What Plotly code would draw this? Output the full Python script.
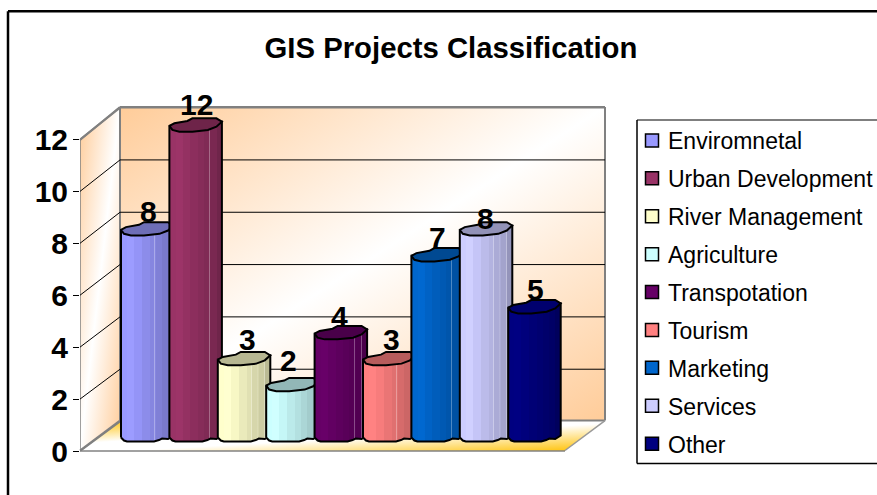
import base64
import plotly.graph_objects as go

# ---- data ----
categories = ["Enviromnetal", "Urban Development", "River Management", "Agriculture",
              "Transpotation", "Tourism", "Marketing", "Services", "Other"]
values = [8, 12, 3, 2, 4, 3, 7, 8, 5]
colors = ["#9999FF", "#993366", "#FFFFCC", "#CCFFFF", "#660066",
          "#FF8080", "#0066CC", "#CCCCFF", "#000080"]
y_ticks = [0, 2, 4, 6, 8, 10, 12]

# ---- style / geometry ----
W, H = 877, 495
L, R, T, B = 80, 605, 107, 451.5        # plot rectangle in page pixels
PITCH = 48.4                            # px per category
FIRST_CENTRE = 147.25
BAR_W = 52.5
UNIT_FRONT, UNIT_BACK, UNIT_BAR = 26.0, 26.2, 26.0
BACK_ZERO, BAR_ZERO = 422.0, 437.0
FONT = "Liberation Sans, Arial, sans-serif"
LABEL_UP = [17, 20, 19, 24, 16, 19, 17, 10, 17]
LABEL_RIGHT = [1, 1, 3, -4, -1, 2, 0, -1, 1]

# outline templates of the cylinder, px from left edge / level (down positive)
TOP_SHAPE = [(0, 1), (5, -1.7), (18, -4), (23, -6.7), (47, -6.7), (52.5, -3.3), (47, 1.7),
             (38.5, 5), (23, 6.7), (10, 6.7), (3, 5), (0, 1)]
BOTTOM_SHAPE = [(0, 1), (3, 4), (6, 5), (33, 5), (38, 3.5), (41, 2), (47, 2.5), (50, 1), (52.5, -1)]
BANDS = [(0, 1.0), (.12, 1.02), (.25, .97), (.4, .92), (.55, .88), (.66, .84), (.78, .8), (.9, .73), (1, .68)]
STREAKS = [.64, .76, .89]


def rgb(c):
    return tuple(int(c[i:i + 2], 16) for i in (1, 3, 5))


def scaled(c, k, white=0.0):
    r = [min(255, v * k) for v in rgb(c)]
    r = [v + (255 - v) * white for v in r]
    return "rgb(%d,%d,%d)" % tuple(r)


def gradient(c):
    stops = []
    for i in range(len(BANDS) - 1):
        a, ka = BANDS[i]
        b, _ = BANDS[i + 1]
        stops += [[a, scaled(c, ka)], [b - 0.0005, scaled(c, ka)]]
    stops += [[1, scaled(c, BANDS[-1][1])]]
    out = []
    for s in STREAKS:
        stops = [p for p in stops if not (s - .004 <= p[0] <= s + .006)]
        k = [kb for (q, kb) in BANDS if q <= s][-1]
        out += [[s - .004, scaled(c, k)], [s - .0035, scaled(c, k, .3)],
                [s + .005, scaled(c, k, .3)], [s + .0055, scaled(c, k)]]
    return sorted(stops + out, key=lambda p: p[0])


def px_x(px):
    return (px - L) / (R - L)


def px_y(px):
    return (B - px) / (B - T)


def hline(x0, y0, x1, y1, color="#808080", width=2):
    return dict(type="line", xref="paper", yref="paper", x0=px_x(x0), x1=px_x(x1), y0=px_y(y0), y1=px_y(y1),
                line=dict(color=color, width=width), layer="below")


# wall backdrop with diagonal gradients
svg = f'''<svg xmlns="http://www.w3.org/2000/svg" width="{W}" height="{H}" viewBox="0 0 {W} {H}">
<defs>
<linearGradient id="w" x1="0" y1="0" x2="1" y2="1"><stop offset="0" stop-color="#FFCC99"/><stop offset=".5" stop-color="#FFFFFF"/><stop offset="1" stop-color="#FFCC99"/></linearGradient>
<linearGradient id="f" x1="0" y1="0" x2="1" y2="1"><stop offset="0" stop-color="#FFC000"/><stop offset=".38" stop-color="#FFFFFF"/><stop offset=".55" stop-color="#FFFFFF"/><stop offset="1" stop-color="#FFC000"/></linearGradient>
</defs>
<polygon points="120,107 605,107 605,421 120,421" fill="url(#w)"/>
<polygon points="80,140 120,107 120,421 80,451" fill="url(#w)"/>
<polygon points="80,451 120,421 605,421 565,451" fill="url(#f)"/>
</svg>'''
src = "data:image/svg+xml;base64," + base64.b64encode(svg.encode()).decode()

fig = go.Figure()

# x position of a page pixel, in category units
def cat_x(px):
    return (px - FIRST_CENTRE) / PITCH


# front axis line (main y axis) and legend swatches
fig.add_trace(go.Scatter(x=[cat_x(L)] * 2, y=[y_ticks[0], y_ticks[-1]], mode="lines",
                         line=dict(color="#808080", width=1.5), showlegend=False, hoverinfo="skip"))
for name, color in zip(categories, colors):
    fig.add_trace(go.Scatter(x=[None], y=[None], mode="markers", name=name, legendgroup=name,
                             marker=dict(symbol="square", size=13, color=color, angle=90, standoff=4,
                                         line=dict(color="black", width=1.5))))

# gridlines on back wall and left wall (yaxis2: back-wall scale)
for v in y_ticks:
    front_level = (BACK_ZERO - (B - UNIT_FRONT * v)) / UNIT_BACK
    fig.add_trace(go.Scatter(x=[cat_x(L), cat_x(L + 40)], y=[front_level, v], yaxis="y2", mode="lines",
                             line=dict(color="#808080" if v in (0, 12) else "black", width=2 if v in (0, 12) else 1),
                             showlegend=False, hoverinfo="skip"))
    if v:
        fig.add_trace(go.Scatter(x=[cat_x(L + 40), cat_x(R)], y=[v, v], yaxis="y2", mode="lines",
                                 line=dict(color="#808080" if v == 12 else "black", width=2 if v == 12 else 1),
                                 showlegend=False, hoverinfo="skip"))

# cylinders (yaxis3: bar scale), later ones over earlier ones
for i, (name, val, color) in enumerate(zip(categories, values, colors)):
    left = i - BAR_W / 2 / PITCH
    bx = [left + dx / PITCH for dx, _ in BOTTOM_SHAPE]
    by = [-dy / UNIT_BAR for _, dy in BOTTOM_SHAPE]
    tx = [left + dx / PITCH for dx, _ in TOP_SHAPE]
    ty = [val - dy / UNIT_BAR for _, dy in TOP_SHAPE]
    body_x = bx + [left + BAR_W / PITCH, left, left]
    body_y = by + [val + 3.3 / UNIT_BAR, val - 1 / UNIT_BAR, by[0]]
    fig.add_trace(go.Scatter(x=body_x, y=body_y, yaxis="y3", mode="lines", fill="toself",
                             fillgradient=dict(type="horizontal", colorscale=gradient(color)),
                             line=dict(color="black", width=2), legendgroup=name, showlegend=False,
                             name=name, hoverinfo="skip"))
    fig.add_trace(go.Scatter(x=tx, y=ty, yaxis="y3", mode="lines", fill="toself",
                             fillcolor=scaled(color, .72) if color != "#000080" else "#00006E",
                             line=dict(color="black", width=2), legendgroup=name, showlegend=False,
                             name=name, hovertemplate=f"{name}: {val}<extra></extra>"))
    fig.add_annotation(x=i, y=val, xref="x", yref="y3", text=str(val), showarrow=False,
                       xshift=LABEL_RIGHT[i], yshift=LABEL_UP[i],
                       font=dict(family=FONT, size=30, color="black", weight="bold"))

shapes = [
    hline(8, 11, W + 5, 11, "black", 2.5), hline(8, 11, 8, H + 5, "black", 2.5),
    hline(637, 120, W + 5, 120, "#555555", 1.5), hline(637, 120, 637, 464, "black", 1.5),
    hline(637, 464, W + 5, 464, "black", 1.5),
    hline(80, 140, 120, 107), hline(120, 107, 120, 421), hline(120, 107, 605, 107),
    hline(605, 107, 605, 421), hline(120, 421, 605, 421), hline(80, 451, 120, 421),
    hline(605, 421, 565, 451, "#999999", 1.5), hline(80, 451.5, 565, 451.5, "#444444", 1.2),
]

fig.update_layout(
    width=W, height=H, autosize=False,
    margin=dict(l=L, r=W - R, t=T, b=H - B, autoexpand=False),
    paper_bgcolor="white", plot_bgcolor="rgba(0,0,0,0)",
    font=dict(family=FONT, color="black"),
    title=dict(text="<b>GIS Projects Classification</b>", x=451 / W, y=1 - 48 / H, xanchor="center",
               yanchor="middle", xref="container", yref="container",
               font=dict(family=FONT, size=29.3, color="black")),
    xaxis=dict(range=[cat_x(L), cat_x(R)], visible=False, fixedrange=True),
    yaxis=dict(range=[0, (B - T) / UNIT_FRONT], tickvals=y_ticks, ticks="outside", ticklen=6, tickwidth=1,
               tickcolor="black", showgrid=False, zeroline=False, showline=False, fixedrange=True,
               tickfont=dict(family=FONT, size=30, color="black", weight="bold"), ticklabelstandoff=-1),
    yaxis2=dict(range=[(BACK_ZERO - B) / UNIT_BACK, (BACK_ZERO - T) / UNIT_BACK], overlaying="y", visible=False,
                fixedrange=True),
    yaxis3=dict(range=[(BAR_ZERO - B) / UNIT_BAR, (BAR_ZERO - T) / UNIT_BAR], overlaying="y", visible=False,
                fixedrange=True),
    legend=dict(x=px_x(628), y=px_y(119), xanchor="left", yanchor="top", bgcolor="rgba(0,0,0,0)",
                borderwidth=0, tracegroupgap=5, itemsizing="trace",
                font=dict(family=FONT, size=23, color="black")),
    images=[dict(source=src, xref="paper", yref="paper", x=px_x(0), y=px_y(0), sizex=W / (R - L),
                 sizey=H / (B - T), xanchor="left", yanchor="top", sizing="stretch", layer="below")],
    shapes=shapes,
    hovermode="closest",
)

fig.write_html("out.html", config={"displayModeBar": False},
               post_script="document.body.style.margin='0';window.dispatchEvent(new Event('resize'));")
